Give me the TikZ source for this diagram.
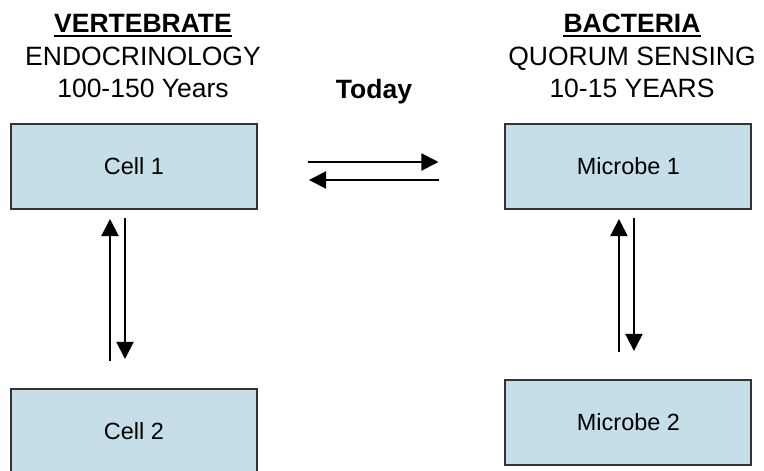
\documentclass[tikz,border=0pt]{standalone}
\usepackage{fontspec}
\setmainfont{Liberation Sans}
\usetikzlibrary{positioning}
\usetikzlibrary{arrows.meta}
\usepackage{xcolor}
\definecolor{boxblue}{RGB}{198,222,232}

\begin{document}
\begin{tikzpicture}[
		% Style definitions - sizes taken from the layout grid
		cellbox/.style={draw=black!80, line width=1.4pt, fill=boxblue, minimum width=6.15cm, minimum height=2.125cm, inner sep=0pt, font=\fontsize{16.7}{20}\selectfont},
		heading/.style={anchor=base, inner sep=0pt, font=\fontsize{18.85}{23}\selectfont},
		arrow/.style={-{Triangle[length=0.43cm, width=0.43cm]}, line width=1.4pt},
		]
		\useasboundingbox (0,0) rectangle (19.1,-11.775);

		% === ROW 1: Column headings (top) ===
		\node[heading] (vert) at (3.575,-0.8) {\textbf{VERTEBRATE}};
		\node[heading] (endo) at (3.575,-1.625) {ENDOCRINOLOGY};
		\node[heading] (vyears) at (3.575,-2.4375) {100-150 Years};
		\node[heading] (bact) at (15.8,-0.8) {\textbf{BACTERIA}};
		\node[heading] (quorum) at (15.8,-1.625) {QUORUM SENSING};
		\node[heading] (byears) at (15.8,-2.4375) {10-15 YEARS};
		\node[heading] (today) at (9.35,-2.45) {\textbf{Today}};

		% underlines below the bold headings
		\draw[line width=1.4pt] ([yshift=-0.1cm]vert.base west) -- ([yshift=-0.1cm]vert.base east);
		\draw[line width=1.4pt] ([yshift=-0.1cm]bact.base west) -- ([yshift=-0.1cm]bact.base east);

		% === ROW 2: Upper boxes ===
		\node[cellbox] (cell1) at (3.35,-4.1625) {Cell 1};
		\node[cellbox, right=6.1625cm of cell1] (microbe1) {Microbe 1};

		% === ROW 3: Lower boxes ===
		\node[cellbox, below=4.45cm of cell1] (cell2) {Cell 2};
		\node[cellbox, below=4.225cm of microbe1] (microbe2) {Microbe 2};

		% === Connections: horizontal exchange ===
		\draw[arrow, shorten <=1.25cm, shorten >=1.65cm] ([yshift=0.1125cm]cell1.east) -- ([yshift=0.1125cm]microbe1.west);
		\draw[arrow, shorten <=1.625cm, shorten >=1.275cm] ([yshift=-0.3375cm]microbe1.west) -- ([yshift=-0.3375cm]cell1.east);

		% === Connections: vertical exchange ===
		\draw[arrow, shorten <=0.675cm, shorten >=0.225cm] ([xshift=-0.6cm]cell2.north) -- ([xshift=-0.6cm]cell1.south);
		\draw[arrow, shorten <=0.2cm, shorten >=0.725cm] ([xshift=-0.225cm]cell1.south) -- ([xshift=-0.225cm]cell2.north);
		\draw[arrow, shorten <=0.675cm, shorten >=0.225cm] ([xshift=-0.2375cm]microbe2.north) -- ([xshift=-0.2375cm]microbe1.south);
		\draw[arrow, shorten <=0.2cm, shorten >=0.7cm] ([xshift=0.1375cm]microbe1.south) -- ([xshift=0.1375cm]microbe2.north);

	\end{tikzpicture}
\end{document}
